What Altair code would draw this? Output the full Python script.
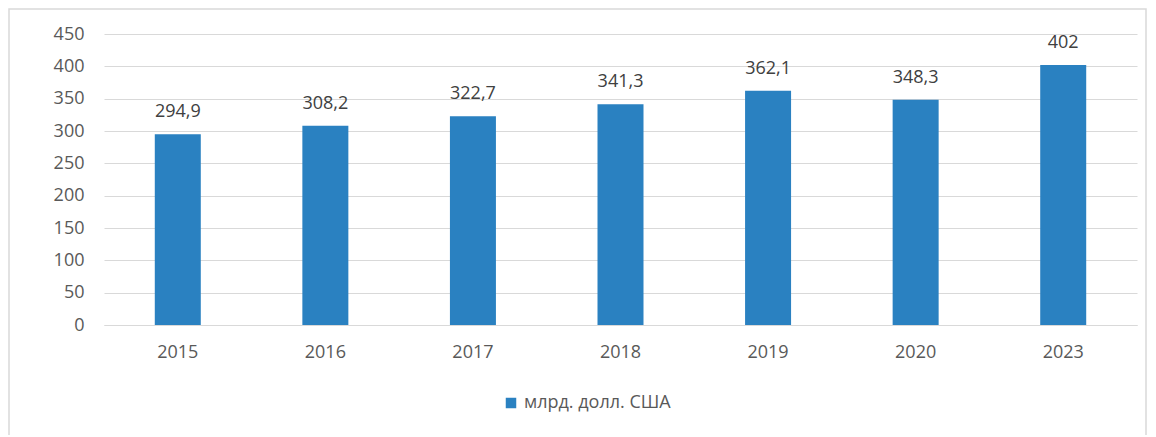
import altair as alt
import pandas as pd

years = ["2015", "2016", "2017", "2018", "2019", "2020", "2023"]
values = [294.9, 308.2, 322.7, 341.3, 362.1, 348.3, 402]
series = ["млрд. долл. США"] * len(years)
y_ticks = [0, 50, 100, 150, 200, 250, 300, 350, 400, 450]

df = pd.DataFrame({"year": years, "value": values, "series": series})

FONT = "Open Sans"
FS = 18
W, H = 1033, 291
PL, PT = 96, 26

x_enc = alt.X("year:N", sort=years, title=None,
              scale=alt.Scale(paddingInner=0.69, paddingOuter=0.345),
              axis=alt.Axis(labelAngle=0, labelFont=FONT, labelFontSize=FS, labelColor="#595959",
                            ticks=False, domainColor="#D9D9D9", labelPadding=18))
y_enc = alt.Y("value:Q", title=None,
              scale=alt.Scale(domain=[0, 450], nice=False),
              axis=alt.Axis(values=y_ticks, labelFont=FONT, labelFontSize=FS, labelOverlap=False,
                            labelColor="#595959", ticks=False, domain=False,
                            gridColor="#D9D9D9", labelPadding=20))

base = alt.Chart(df).encode(x=x_enc, y=y_enc)

frame = alt.Chart(pd.DataFrame({"a": [0]})).mark_rect(
    fill=None, stroke="#D9D9D9", strokeWidth=1.5
).encode(
    x=alt.value(-PL + 1), x2=alt.value(1042), y=alt.value(-PT + 1), y2=alt.value(500)
)

bars = base.mark_bar(size=46).encode(
    color=alt.Color("series:N", title=None,
                    scale=alt.Scale(range=["#2A81C1"]),
                    legend=alt.Legend(orient="none", legendX=398, legendY=360,
                                      symbolType="square", symbolSize=110,
                                      labelFont=FONT, labelFontSize=FS, labelColor="#595959",
                                      symbolStrokeWidth=0)),
)

labels = base.transform_calculate(
    lbl="replace(toString(datum.value), '.', ',')"
).mark_text(font=FONT, fontSize=FS, color="#404040", dy=-13, baseline="bottom").encode(
    text="lbl:N",
)

chart = alt.layer(frame, bars, labels).properties(
    width=W, height=H,
    background="white",
    autosize=alt.AutoSizeParams(type="none"),
    padding={"left": PL, "top": PT, "right": 10, "bottom": 110},
).configure_view(strokeWidth=0, stroke="transparent")

chart.save("out.html", embed_options={"renderer": "svg", "actions": False})
